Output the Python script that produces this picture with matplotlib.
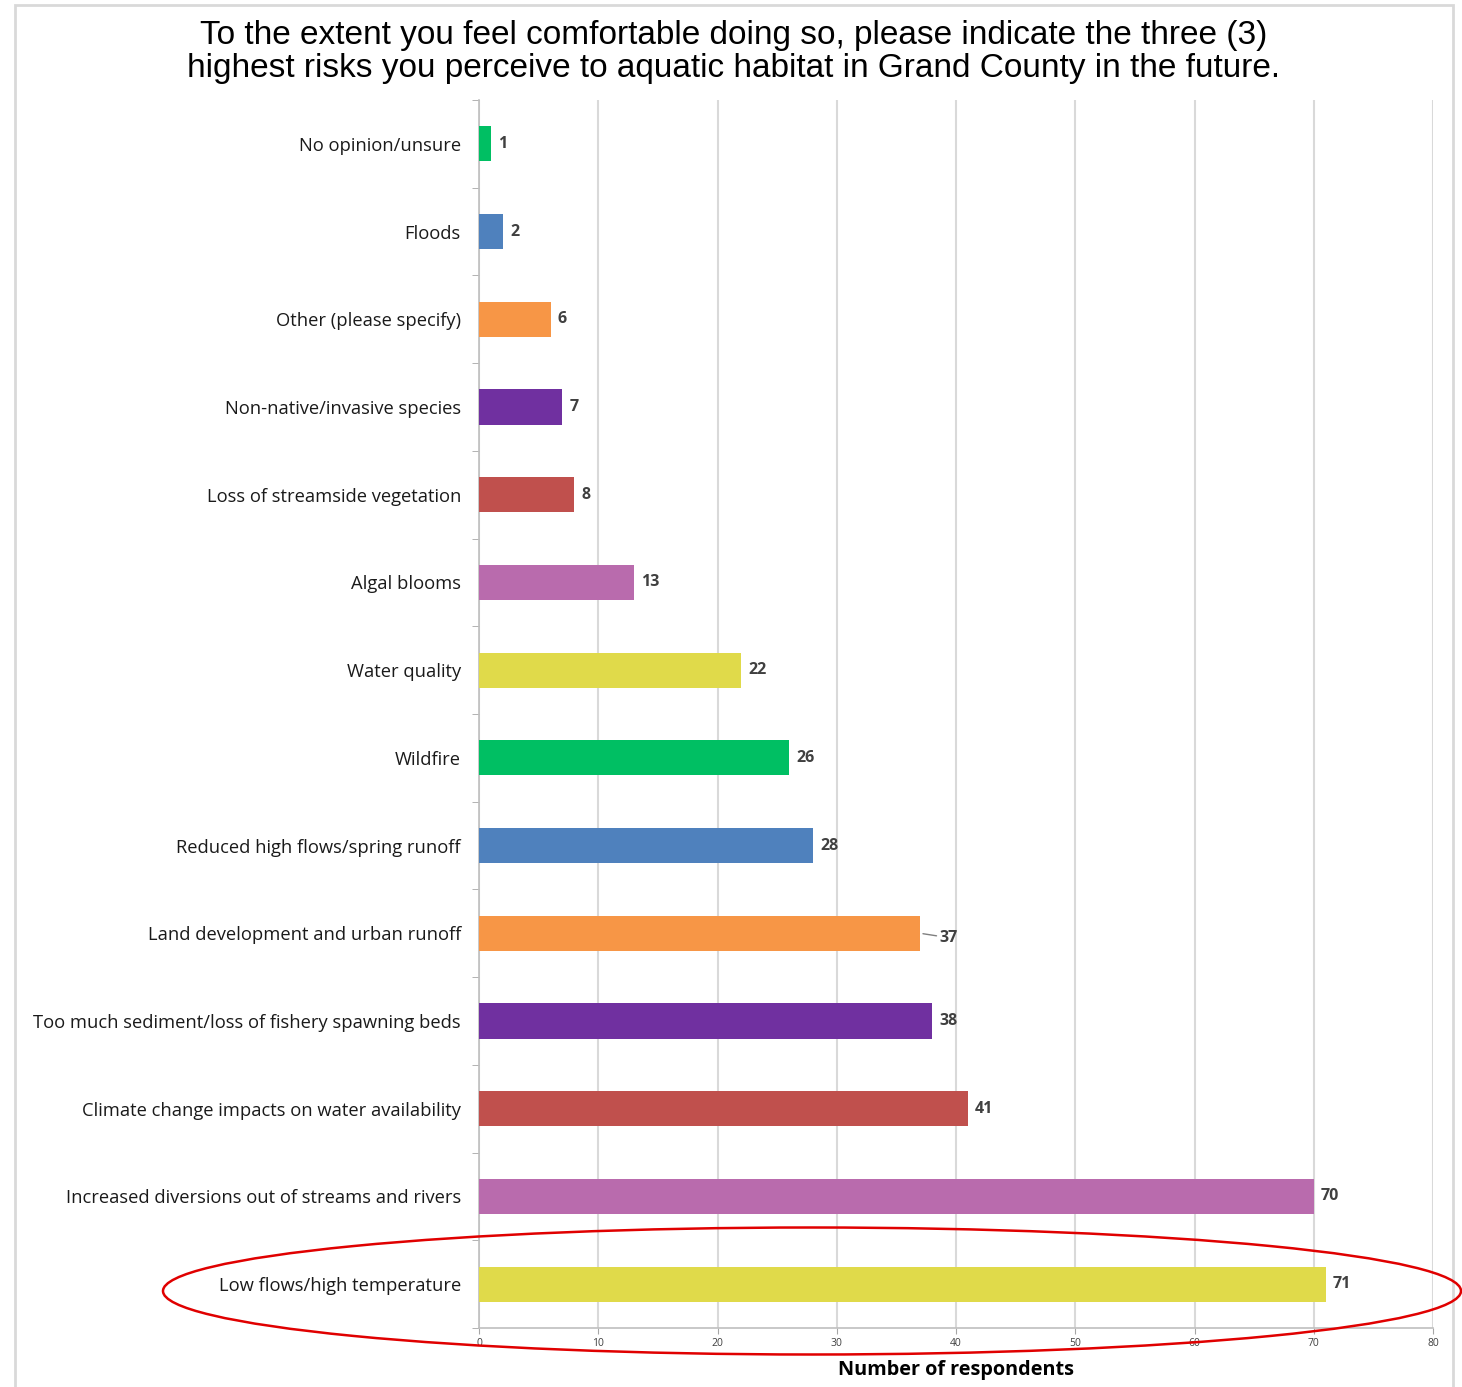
import matplotlib
matplotlib.use("Agg")
import matplotlib.pyplot as plt
from matplotlib.patches import Ellipse, Rectangle

categories = [
    "No opinion/unsure", "Floods", "Other (please specify)", "Non-native/invasive species",
    "Loss of streamside vegetation", "Algal blooms", "Water quality", "Wildfire",
    "Reduced high flows/spring runoff", "Land development and urban runoff",
    "Too much sediment/loss of fishery spawning beds", "Climate change impacts on water availability",
    "Increased diversions out of streams and rivers", "Low flows/high temperature",
]
values = [1, 2, 6, 7, 8, 13, 22, 26, 28, 37, 38, 41, 70, 71]
colors = ["#00BF63", "#4F81BD", "#F79646", "#7030A0", "#C0504D", "#B96BAD", "#E0DA4A",
          "#00BF63", "#4F81BD", "#F79646", "#7030A0", "#C0504D", "#B96BAD", "#E0DA4A"]
xticks = [0, 10, 20, 30, 40, 50, 60, 70, 80]

W, H = 1462, 1387
fig = plt.figure(figsize=(W / 100, H / 100), dpi=100)
ax = fig.add_axes([479 / W, 1 - 1328 / H, (1433 - 479) / W, (1328 - 100) / H])

n = len(categories)
ypos = list(range(n))
ax.barh(ypos, values, height=0.4, color=colors, zorder=3)
ax.set_ylim(n - 0.5, -0.5)
ax.set_xlim(0, 80)
ax.set_xticks(xticks)
ax.set_xticklabels([str(t) for t in xticks], fontsize=7.5, color="#404040", family="Open Sans")
ax.set_yticks(ypos)
ax.set_yticklabels(categories, fontsize=13.2, color="#1a1a1a", family="Open Sans")
ax.set_yticks([i + 0.5 for i in range(-1, n)], minor=True)
ax.tick_params(axis="y", which="major", length=0, pad=13)
ax.tick_params(axis="y", which="minor", length=5, color="#a6a6a6")
ax.tick_params(axis="x", length=4, color="#a6a6a6", pad=3)
ax.grid(axis="x", color="#d9d9d9", linewidth=1.5, zorder=0)
for s in ["top", "right"]:
    ax.spines[s].set_visible(False)
for s in ["left", "bottom"]:
    ax.spines[s].set_color("#bfbfbf")
    ax.spines[s].set_linewidth(1.2)

for i, v in enumerate(values):
    if v == 37:
        ax.annotate(str(v), xy=(v, i), xytext=(v + 1.6, i + 0.05), fontsize=11.5, color="#404040",
                    fontweight="bold", family="Open Sans", va="center", ha="left",
                    arrowprops=dict(arrowstyle="-", color="#7f7f7f", lw=1, shrinkA=0, shrinkB=2))
    else:
        ax.text(v + 0.6, i, str(v), fontsize=11.5, color="#404040", fontweight="bold",
                family="Open Sans", va="center", ha="left", zorder=4)

ax.set_xlabel("Number of respondents", fontsize=14.3, fontweight="bold", family="Open Sans",
              color="#000000", labelpad=8)

fig.text(734 / W, 1 - 52 / H,
         "To the extent you feel comfortable doing so, please indicate the three (3)\nhighest risks you perceive to aquatic habitat in Grand County in the future.",
         ha="center", va="center", fontsize=24, family="Liberation Sans", linespacing=1.12)

fig.patches.append(Rectangle((15 / W, -0.01), (1453 - 15) / W, 1 - 5 / H + 0.01,
                             transform=fig.transFigure, fill=False, edgecolor="#d9d9d9", lw=2))
fig.patches.append(Ellipse((812 / W, 1 - 1291 / H), 1298 / W, 127 / H,
                           transform=fig.transFigure, fill=False, edgecolor="#e00000", lw=1.8))

fig.savefig("out.png", dpi=100)
